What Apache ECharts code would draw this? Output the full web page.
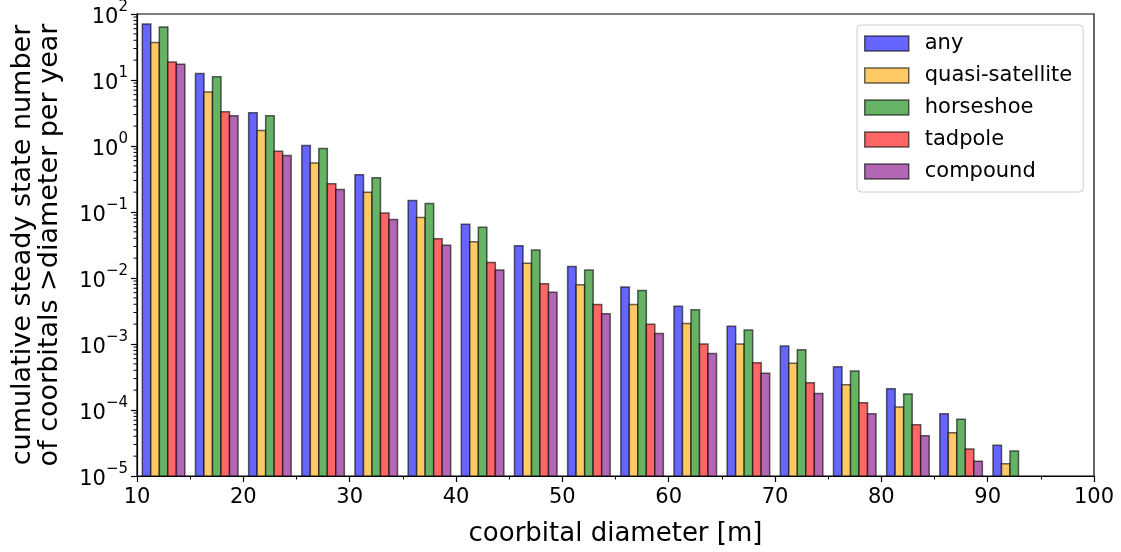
<!DOCTYPE html>
<html>
<head>
<meta charset="utf-8">
<script src="https://cdn.jsdelivr.net/npm/echarts@6/dist/echarts.min.js"></script>
<style>
  html, body { margin: 0; padding: 0; background: #fff; }
  #chart { width: 1121px; height: 552px; }
</style>
</head>
<body>
<div id="chart"></div>
<script>
// Lower edge of each 5 m diameter bin
const diameters = [10, 15, 20, 25, 30, 35, 40, 45, 50, 55, 60, 65, 70, 75, 80, 85, 90];

// Cumulative steady state number of coorbitals larger than the diameter, per year
const anyClass = [70.7, 12.6, 3.18, 1.02, 0.368, 0.15, 0.0653, 0.0308, 0.0149, 0.00731, 0.00374, 0.00185, 0.00093, 0.000454, 0.00021, 0.0000875, 0.0000292];
const quasiSatellite = [37, 6.58, 1.71, 0.552, 0.2, 0.0824, 0.0355, 0.0168, 0.00793, 0.00397, 0.00204, 0.001, 0.00051, 0.000241, 0.000111, 0.0000453, 0.0000153];
const horseshoe = [63.8, 11.2, 2.87, 0.916, 0.329, 0.134, 0.0589, 0.0266, 0.0132, 0.00644, 0.0033, 0.00163, 0.000817, 0.000391, 0.000175, 0.0000726, 0.000024];
const tadpole = [18.8, 3.29, 0.835, 0.267, 0.0966, 0.0394, 0.0171, 0.0082, 0.00397, 0.00199, 0.001, 0.00052, 0.000258, 0.000129, 0.0000597, 0.0000257, null];
const compound = [17.3, 2.87, 0.72, 0.219, 0.0769, 0.0313, 0.0132, 0.00607, 0.00288, 0.00144, 0.00072, 0.00036, 0.000178, 0.0000875, 0.0000408, 0.0000168, null];

const seriesNames = ['any', 'quasi-satellite', 'horseshoe', 'tadpole', 'compound'];
const seriesValues = [anyClass, quasiSatellite, horseshoe, tadpole, compound];

// Axis ranges and titles
const xMin = 10, xMax = 100, xStep = 10;
const yMin = 1e-5, yMax = 1e2;
const xAxisTitle = 'coorbital diameter [m]';
const yAxisTitle = 'cumulative steady state number\nof coorbitals >diameter per year';

// Styling (matplotlib-like colours drawn at 60% opacity over white)
const fills = ['#6666ff', '#ffc966', '#66b366', '#ff6666', '#b366b3'];
const edge = 'rgba(0,0,0,0.6)';
const FONT = 'DejaVu Sans';

// Grouped histogram layout: 5 m bins, 80% of each bin filled by the 5 bars
const BIN = 5;
const GROUP_FRACTION = 0.8;
const BAR_W = BIN * GROUP_FRACTION / seriesNames.length;
const GROUP_OFFSET = BIN * (1 - GROUP_FRACTION) / 2;

const SUP_MINUS = '\u2212';

function barSeries(idx) {
  const vals = seriesValues[idx];
  const data = [];
  diameters.forEach((d, i) => {
    if (vals[i] != null) data.push([d, vals[i]]);
  });
  return {
    name: seriesNames[idx],
    type: 'custom',
    data: data,
    encode: { x: 0, y: 1 },
    itemStyle: { color: fills[idx] },
    renderItem: function (params, api) {
      const left = api.value(0) + GROUP_OFFSET + idx * BAR_W;
      const v = api.value(1);
      const p0 = api.coord([left, v]);
      const p1 = api.coord([left + BAR_W, yMin]);
      return {
        type: 'rect',
        shape: { x: p0[0], y: p0[1], width: p1[0] - p0[0], height: p1[1] - p0[1] },
        style: { fill: fills[idx], stroke: edge, lineWidth: 1.5 }
      };
    }
  };
}

// Minor ticks of the log axis at 2..9 x 10^n
const minorTickValues = [];
for (let e = -5; e < 2; e++) {
  for (let m = 2; m <= 9; m++) minorTickValues.push([xMin, m * Math.pow(10, e)]);
}

const chart = echarts.init(document.getElementById('chart'), null, { renderer: 'canvas' });

const option = {
  animation: false,
  backgroundColor: '#ffffff',
  textStyle: { fontFamily: FONT },
  grid: {
    left: 137, right: 27, top: 14, bottom: 72,
    show: true, borderColor: '#000', borderWidth: 1.2, backgroundColor: 'transparent'
  },
  legend: {
    orient: 'vertical',
    left: 857, top: 25,
    padding: [8, 11, 10, 7],
    itemWidth: 44, itemHeight: 15, itemGap: 11,
    backgroundColor: '#fff',
    borderColor: '#cccccc', borderWidth: 1, borderRadius: 4,
    textStyle: { fontFamily: FONT, fontSize: 21, color: '#000', lineHeight: 21, padding: [0, 0, 0, 11] },
    data: seriesNames.map((n, i) => ({
      name: n, icon: 'rect',
      itemStyle: { color: fills[i], borderColor: edge, borderWidth: 1.5 }
    }))
  },
  xAxis: {
    type: 'value',
    min: xMin, max: xMax, interval: xStep,
    name: xAxisTitle,
    nameLocation: 'middle', nameGap: 45,
    nameTextStyle: { fontFamily: FONT, fontSize: 26, color: '#000' },
    axisLine: { show: true, lineStyle: { color: '#000', width: 1.2 } },
    axisTick: { show: true, length: 6, lineStyle: { color: '#000', width: 1.2 } },
    minorTick: { show: true, splitNumber: 2, length: 3.5, lineStyle: { color: '#000', width: 1 } },
    axisLabel: { fontFamily: FONT, fontSize: 21, color: '#000', margin: 11 },
    splitLine: { show: false }
  },
  yAxis: {
    type: 'log', logBase: 10,
    min: yMin, max: yMax, interval: 1,
    name: yAxisTitle,
    nameLocation: 'middle', nameRotate: 90, nameGap: 74,
    nameTextStyle: { fontFamily: FONT, fontSize: 27, color: '#000', lineHeight: 27 },
    axisLine: { show: true, lineStyle: { color: '#000', width: 1.2 } },
    axisTick: { show: true, length: 6, lineStyle: { color: '#000', width: 1.2 } },
    axisLabel: {
      margin: 9,
      fontFamily: FONT, color: '#000',
      formatter: function (v) {
        const e = Math.round(Math.log10(v));
        const s = e < 0 ? SUP_MINUS + String(-e) : String(e);
        return '{b|10}{s|' + s + '}';
      },
      rich: {
        b: { fontFamily: FONT, fontSize: 21, color: '#000', verticalAlign: 'bottom', lineHeight: 28 },
        s: { fontFamily: FONT, fontSize: 15, color: '#000', verticalAlign: 'top', lineHeight: 28 }
      }
    },
    splitLine: { show: false }
  },
  series: [0, 1, 2, 3, 4].map(barSeries).concat([{
    name: 'minorTicks',
    type: 'custom',
    silent: true,
    clip: false,
    data: minorTickValues,
    encode: { x: 0, y: 1 },
    renderItem: function (params, api) {
      const p = api.coord([api.value(0), api.value(1)]);
      return {
        type: 'line',
        shape: { x1: p[0] - 3.5, y1: p[1], x2: p[0], y2: p[1] },
        style: { stroke: '#000', lineWidth: 1 }
      };
    }
  }])
};

chart.setOption(option);
</script>
</body>
</html>
